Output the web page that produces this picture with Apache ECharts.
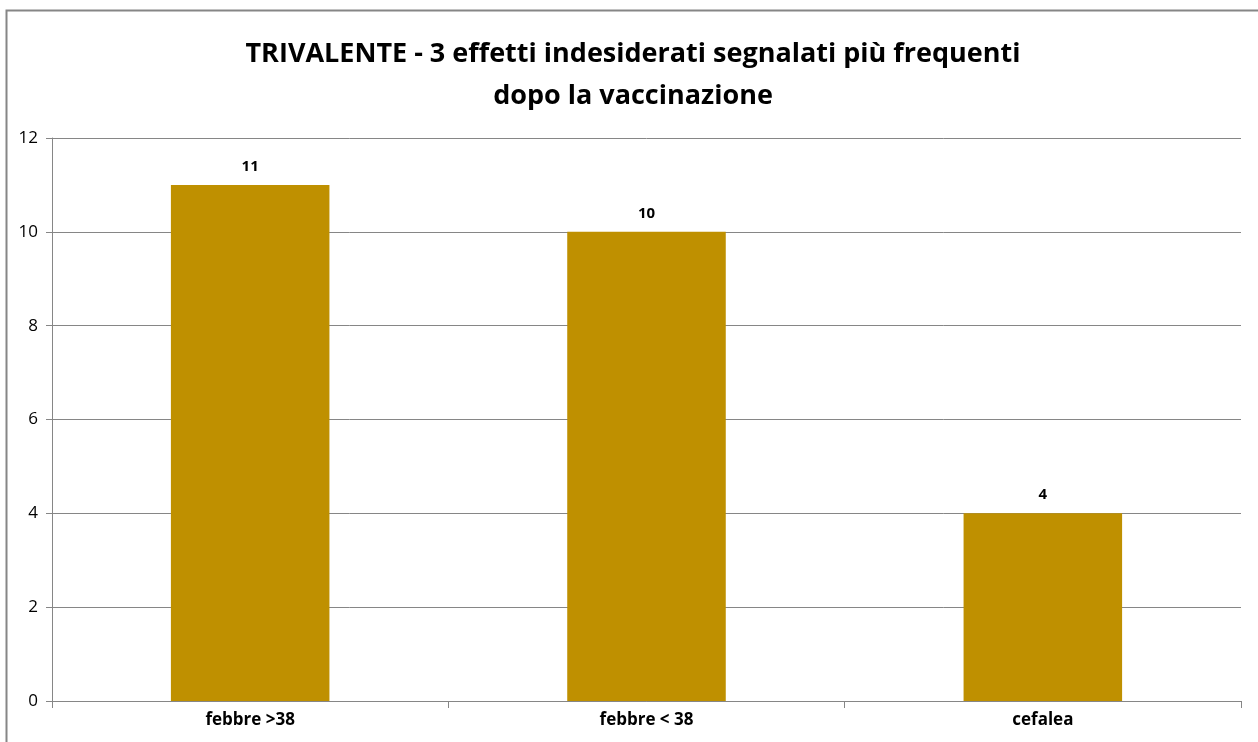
<!DOCTYPE html>
<html>
<head>
<meta charset="utf-8">
<script src="https://cdn.jsdelivr.net/npm/echarts@6/dist/echarts.min.js"></script>
<style>html,body{margin:0;padding:0;background:#fff}#c{width:1258px;height:742px}</style>
</head>
<body>
<div id="c"></div>
<script>
const categories = ['febbre >38', 'febbre < 38', 'cefalea'];
const values = [11, 10, 4];
const titleText = 'TRIVALENTE - 3 effetti indesiderati segnalati più frequenti\ndopo la vaccinazione';

const chart = echarts.init(document.getElementById('c'));
chart.setOption({
  animation: false,
  backgroundColor: '#fff',
  title: {
    text: titleText,
    left: 628, textAlign: 'center', top: 28,
    textStyle: { fontFamily: 'Open Sans', fontWeight: 'bold', fontSize: 27, lineHeight: 42, color: '#000' }
  },
  graphic: [{
    type: 'polyline', shape: { points: [[6.5, 742], [6.5, 10.5], [1258, 10.5]] },
    style: { fill: 'none', stroke: '#868686', lineWidth: 2 }, silent: true
  }],
  grid: { left: 52, right: 17, top: 138, bottom: 41 },
  xAxis: {
    type: 'category', data: categories,
    axisLine: { lineStyle: { color: '#868686', width: 1 } },
    axisTick: { show: true, alignWithLabel: false, length: 7, lineStyle: { color: '#868686' } },
    axisLabel: { color: '#000', fontFamily: 'Open Sans', fontWeight: 'bold', fontSize: 17, margin: 11 }
  },
  yAxis: {
    type: 'value', min: 0, max: 12, interval: 2,
    axisLine: { show: true, lineStyle: { color: '#868686' } },
    axisTick: { show: true, length: 6, lineStyle: { color: '#868686' } },
    splitLine: { lineStyle: { color: '#868686', width: 1 } },
    axisLabel: { color: '#000', fontFamily: 'Open Sans', fontSize: 17, margin: 14 }
  },
  series: [{
    type: 'bar', data: values, barWidth: '40%',
    itemStyle: { color: '#BF9000' },
    label: { show: true, position: 'top', distance: 11, color: '#000', fontFamily: 'Open Sans', fontWeight: 'bold', fontSize: 15 }
  }]
});
</script>
</body>
</html>
